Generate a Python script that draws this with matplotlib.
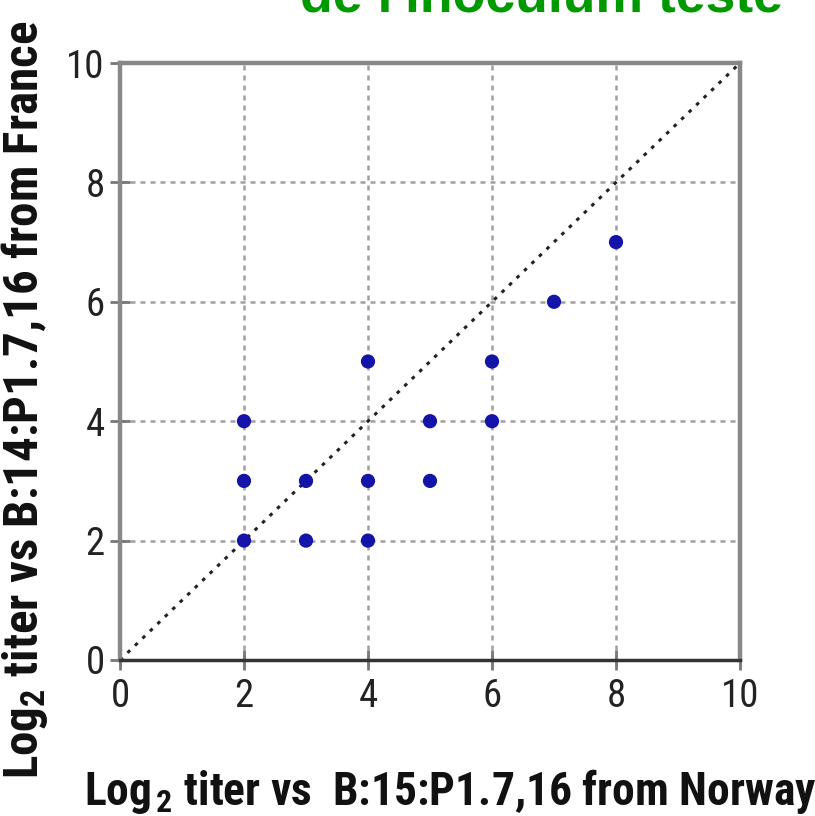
import matplotlib
matplotlib.use("Agg")
import matplotlib.pyplot as plt

# data
x_vals = [2, 2, 2, 3, 3, 4, 4, 4, 5, 5, 6, 6, 7, 8]
y_vals = [2, 3, 4, 2, 3, 2, 3, 5, 3, 4, 4, 5, 6, 7]
ticks = [0, 2, 4, 6, 8, 10]
tick_labels = ["0", "2", "4", "6", "8", "10"]
title_text = "de l'inoculum teste"
xlabel_text = r"Log$_{\,2}$ titer vs  B:15:P1.7,16 from Norway"
ylabel_text = r"Log$_2$ titer vs B:14:P1.7,16 from France"

cond = ["Roboto Condensed", "Liberation Sans", "DejaVu Sans"]
plt.rcParams["font.family"] = cond
plt.rcParams["mathtext.fontset"] = "custom"
plt.rcParams["mathtext.rm"] = "Roboto Condensed:bold"
plt.rcParams["mathtext.it"] = "Roboto Condensed:bold"
plt.rcParams["mathtext.bf"] = "Roboto Condensed:bold"

fig = plt.figure(figsize=(8.15, 8.16), dpi=100)
ax = fig.add_axes([120/815, 1-660/816, 620/815, 597/816])

ax.set_xlim(0, 10)
ax.set_ylim(0, 10)
ax.set_xticks(ticks)
ax.set_xticklabels(tick_labels)
ax.set_yticks(ticks)
ax.set_yticklabels(tick_labels)

ax.grid(True, color="#a0a0a0", linestyle=(0, (2, 2)), linewidth=1.8)
ax.set_axisbelow(True)

ax.plot([0, 10], [0, 10], color="#222222", linestyle=(0, (1.2, 2.2)), linewidth=2.2, zorder=2)
ax.scatter(x_vals, y_vals, s=105, color="#1414a8", edgecolors="none", zorder=3)

for side in ["left", "top", "right"]:
    ax.spines[side].set_color("#888888")
    ax.spines[side].set_linewidth(3.2)
ax.spines["bottom"].set_color("#333333")
ax.spines["bottom"].set_linewidth(2.5)

ax.tick_params(axis="both", direction="inout", length=14, width=2, color="#777777",
               labelsize=28, labelcolor="#222222")
ax.tick_params(axis="x", pad=6)
ax.tick_params(axis="y", pad=4)

fig.text(541/815, 1-11/816, title_text, color="#009900", fontsize=38.5,
         fontweight="bold", family=["Liberation Sans", "DejaVu Sans"],
         ha="center", va="baseline")

fig.text(450/815, 1-805/816, xlabel_text, fontsize=32.8, fontweight="bold",
         ha="center", va="baseline", color="#111111")
fig.text(25/815, 1-400/816, ylabel_text, fontsize=35.3, fontweight="bold",
         rotation=90, ha="center", va="center", color="#111111")

fig.savefig("out.png", dpi=100)
